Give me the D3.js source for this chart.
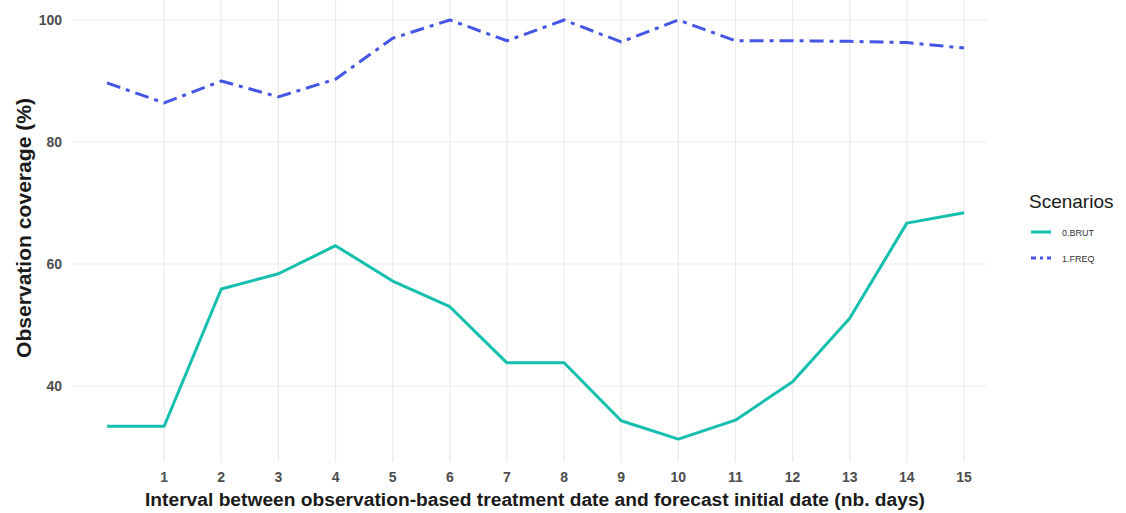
<!DOCTYPE html>
<html>
<head>
<meta charset="utf-8">
<script src="https://cdn.jsdelivr.net/npm/d3@7"></script>
<style>
  body { margin: 0; background: white; }
  text { font-family: "Liberation Sans", Arial, sans-serif; }
</style>
</head>
<body>
<div id="chart"></div>
<script>
// data
const days = [0, 1, 2, 3, 4, 5, 6, 7, 8, 9, 10, 11, 12, 13, 14, 15];
const brut = [33.4, 33.4, 55.9, 58.4, 63.0, 57.2, 53.0, 43.8, 43.8, 34.3, 31.3, 34.4, 40.7, 51.1, 66.7, 68.4];
const freq = [89.7, 86.4, 90.0, 87.4, 90.3, 97.0, 100, 96.6, 100, 96.4, 100, 96.6, 96.6, 96.5, 96.3, 95.4];
const xTicks = [1, 2, 3, 4, 5, 6, 7, 8, 9, 10, 11, 12, 13, 14, 15];
const yTicks = [40, 60, 80, 100];
const seriesNames = ["0.BRUT", "1.FREQ"];

const config = {
  width  : 1126,
  height : 513,
  panel  : { left: 72, right: 987, top: 0, bottom: 462 },
  colors : ["#14bfae", "#4656e4"],
  dashes : ["none", "14,6,4,6"],
  grid   : "#ebebeb"
};

const svg = d3.select("#chart")
  .append("svg")
    .attr("width", config.width)
    .attr("height", config.height);

const x = d3.scaleLinear().domain([0, 15]).range([107, 964]);
const y = d3.scaleLinear().domain([40, 100]).range([386, 20]);

const p = config.panel;

// grid
svg.append("g").selectAll("line")
  .data(xTicks)
  .enter().append("line")
    .attr("x1", d => x(d)).attr("x2", d => x(d))
    .attr("y1", p.top).attr("y2", p.bottom)
    .attr("stroke", config.grid)
    .attr("stroke-width", 1.2);

svg.append("g").selectAll("line")
  .data(yTicks)
  .enter().append("line")
    .attr("x1", p.left).attr("x2", p.right)
    .attr("y1", d => y(d)).attr("y2", d => y(d))
    .attr("stroke", config.grid)
    .attr("stroke-width", 1.2);

// tick labels
svg.append("g").selectAll("text")
  .data(xTicks)
  .enter().append("text")
    .attr("x", d => x(d))
    .attr("y", 482)
    .attr("text-anchor", "middle")
    .attr("font-size", 14)
    .attr("font-weight", "bold")
    .attr("fill", "#4d4d4d")
    .text(d => d);

svg.append("g").selectAll("text")
  .data(yTicks)
  .enter().append("text")
    .attr("x", 62)
    .attr("y", d => y(d) + 5)
    .attr("text-anchor", "end")
    .attr("font-size", 14)
    .attr("font-weight", "bold")
    .attr("fill", "#4d4d4d")
    .text(d => d);

// axis titles
svg.append("text")
  .attr("x", 535)
  .attr("y", 506)
  .attr("text-anchor", "middle")
  .attr("font-size", 18)
  .attr("font-weight", "bold")
  .attr("fill", "#1a1a1a")
  .attr("textLength", 780)
  .attr("lengthAdjust", "spacingAndGlyphs")
  .text("Interval between observation-based treatment date and forecast initial date (nb. days)");

svg.append("text")
  .attr("transform", "translate(31,228) rotate(-90)")
  .attr("text-anchor", "middle")
  .attr("font-size", 20)
  .attr("font-weight", "bold")
  .attr("fill", "#1a1a1a")
  .attr("textLength", 260)
  .attr("lengthAdjust", "spacingAndGlyphs")
  .text("Observation coverage (%)");

// lines
const line = d3.line()
  .x((d, i) => x(days[i]))
  .y(d => y(d));

[brut, freq].forEach(function(values, i) {
  svg.append("path")
    .datum(values)
    .attr("d", line)
    .attr("fill", "none")
    .attr("stroke", config.colors[i])
    .attr("stroke-width", 3)
    .attr("stroke-dasharray", config.dashes[i])
    .attr("stroke-linejoin", "round");
});

// legend
const legend = svg.append("g").attr("transform", "translate(1029,0)");

legend.append("text")
  .attr("x", 0)
  .attr("y", 208)
  .attr("font-size", 19)
  .attr("fill", "#1a1a1a")
  .text("Scenarios");

const keys = legend.selectAll(".key")
  .data(seriesNames)
  .enter().append("g")
    .attr("class", "key")
    .attr("transform", (d, i) => "translate(0," + (232 + i * 26) + ")");

keys.append("line")
  .attr("x1", 2).attr("x2", 22)
  .attr("y1", 0).attr("y2", 0)
  .attr("stroke", (d, i) => config.colors[i])
  .attr("stroke-width", 3)
  .attr("stroke-dasharray", (d, i) => i === 1 ? "5,4,3,4" : "none");

keys.append("text")
  .attr("x", 33)
  .attr("y", 3.5)
  .attr("font-size", 9)
  .attr("fill", "#333")
  .text(d => d);
</script>
</body>
</html>
